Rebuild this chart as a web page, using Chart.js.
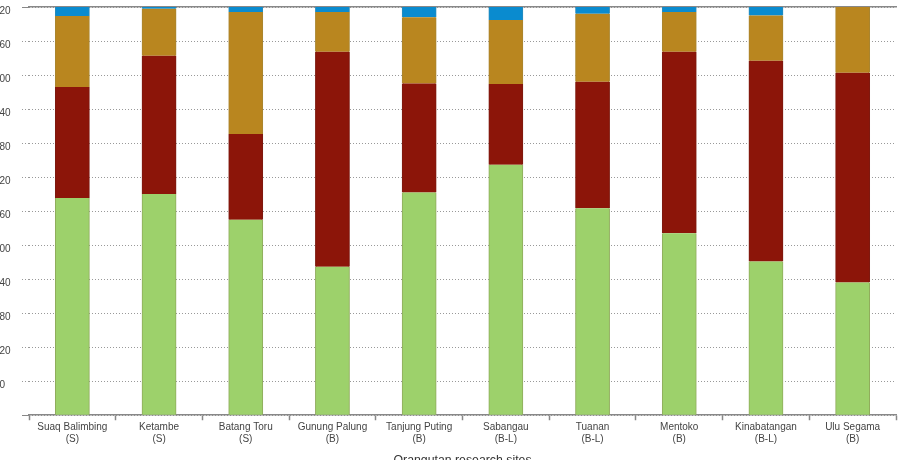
<!DOCTYPE html>
<html>
<head>
<meta charset="utf-8">
<style>
    html, body { margin: 0; padding: 0; background: #fff; overflow: hidden; }
    #wrap { position: absolute; left: -6px; top: 0; width: 904px; height: 472px; }
</style>
</head>
<body>
<div id="wrap">
    <canvas id="myChart"></canvas>
</div>

<script src="https://cdn.jsdelivr.net/npm/chart.js@4"></script>
<script>
    // Sites (two line labels: name + forest type)
    const sites = [
        ['Suaq Balimbing', '(S)'],
        ['Ketambe', '(S)'],
        ['Batang Toru', '(S)'],
        ['Gunung Palung', '(B)'],
        ['Tanjung Puting', '(B)'],
        ['Sabangau', '(B-L)'],
        ['Tuanan', '(B-L)'],
        ['Mentoko', '(B)'],
        ['Kinabatangan', '(B-L)'],
        ['Ulu Segama', '(B)']
    ];

    // stacked values, bottom to top
    const greenVals = [383, 390, 345, 262, 393, 442, 365, 321, 271, 234];
    const redVals   = [196, 244, 151, 379, 192, 142, 223, 320, 354, 370];
    const goldVals  = [125,  83, 215,  70, 117, 113, 120,  70,  80, 116];
    const blueVals  = [ 16,   3,   9,   9,  18,  23,  12,   9,  15,   0];

    const yMax = 720;
    const yStep = 60;

    const fontFam = '"Liberation Sans", Arial, Helvetica, sans-serif';

    function makeSet(label, data, fill, edge) {
        return {
            label: label,
            data: data,
            backgroundColor: fill,
            borderColor: edge,
            borderWidth: { left: 1, right: 1, top: 0, bottom: 0 },
            borderSkipped: false,
            inflateAmount: 0.5,
            barPercentage: 0.39,
            categoryPercentage: 1.0
        };
    }

    const ctx = document.getElementById('myChart');

    let chart = new Chart(ctx, {
        type: 'bar',
        data: {
            labels: sites,
            datasets: [
                makeSet('green', greenVals, '#9dd16b', '#8fab5c'),
                makeSet('red', redVals, '#8c1509', '#7d1a10'),
                makeSet('gold', goldVals, '#b9861f', '#a98530'),
                makeSet('blue', blueVals, '#0a8bcf', '#2a8cbc')
            ]
        },
        options: {
            responsive: true,
            maintainAspectRatio: false,
            animation: false,
            layout: { padding: { top: 7, right: 2, bottom: 0, left: 0 } },
            plugins: {
                legend: { display: false },
                tooltip: { enabled: false }
            },
            scales: {
                x: {
                    stacked: true,
                    grid: {
                        display: true,
                        drawOnChartArea: false,
                        drawTicks: true,
                        tickLength: 5,
                        tickColor: '#888',
                        tickWidth: 1.5,
                        offset: true
                    },
                    border: { display: true, color: '#888', width: 1.5 },
                    ticks: {
                        color: '#444',
                        padding: 1,
                        maxRotation: 0,
                        autoSkip: false,
                        font: { family: fontFam, size: 10, lineHeight: 1.2 }
                    },
                    title: {
                        display: true,
                        text: 'Orangutan research sites',
                        color: '#333',
                        padding: { top: 7, bottom: 4 },
                        font: { family: fontFam, size: 12.3 }
                    }
                },
                x2: {
                    type: 'category',
                    position: 'top',
                    display: true,
                    grid: { display: false, drawTicks: false },
                    ticks: { display: false },
                    border: { display: true, color: '#888', width: 1.5 }
                },
                y: {
                    stacked: true,
                    min: 0,
                    max: yMax,
                    afterFit: scale => {
                        scale.width = 35;
                        scale.paddingTop = 0;
                        scale.paddingBottom = 0;
                    },
                    grid: {
                        color: '#999',
                        lineWidth: 1,
                        drawTicks: true,
                        tickLength: 7,
                        tickColor: c => (c.tick && (c.tick.value === 0 || c.tick.value === yMax)) ? '#888' : '#999',
                        tickBorderDash: c => (c.tick && (c.tick.value === 0 || c.tick.value === yMax)) ? [] : [1, 2]
                    },
                    border: { display: false, dash: [1, 2] },
                    ticks: {
                        stepSize: yStep,
                        crossAlign: 'far',
                        padding: 9,
                        color: '#444',
                        font: { family: fontFam, size: 10, lineHeight: 0.8 },
                        // labels sit a little below their grid line in the original
                        callback: v => ['', String(v)]
                    }
                }
            }
        }
    });
</script>
</body>
</html>
